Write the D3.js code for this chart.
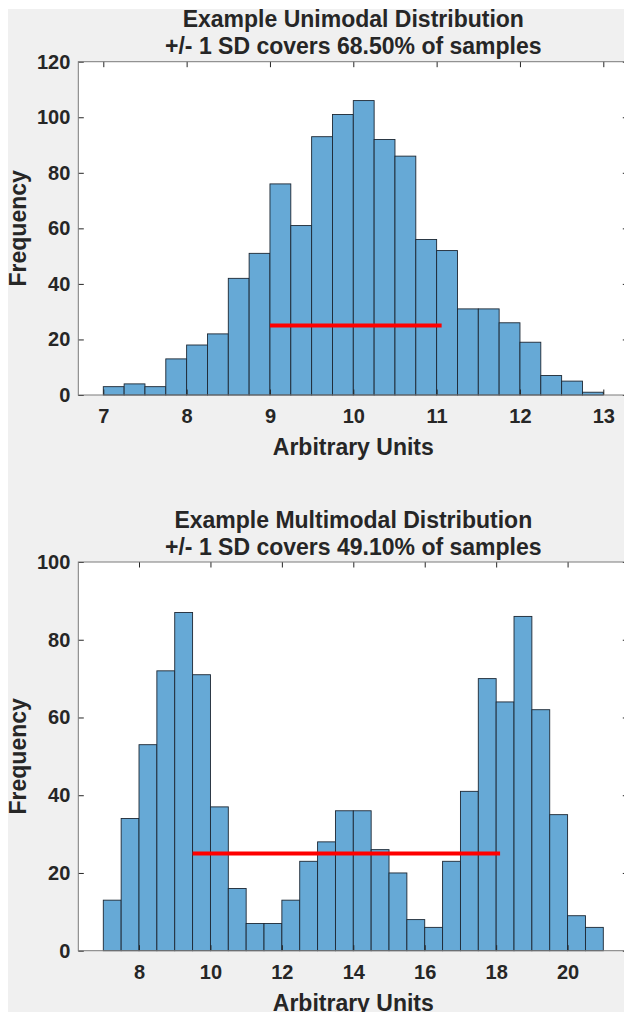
<!DOCTYPE html>
<html>
<head>
<meta charset="utf-8">
<script src="https://cdn.jsdelivr.net/npm/d3@7"></script>
<style>
  html, body { margin: 0; padding: 0; background: #ffffff; }
  svg { display: block; }
  text { font-family: "Liberation Sans", Arial, Helvetica, sans-serif; font-weight: bold; fill: #262626; }
</style>
</head>
<body>
<script>
// ---------- data ----------
const uniTitle = ["Example Unimodal Distribution", "+/- 1 SD covers 68.50% of samples"];
const uniBinStart = 7;
const uniBinWidth = 0.25;
const uniCounts = [3, 4, 3, 13, 18, 22, 42, 51, 76, 61, 93, 101, 106, 92, 86, 56, 52, 31, 31, 26, 19, 7, 5, 1];
const uniSD = [9.0, 11.06];
const uniSDLevel = 25;
const uniXTicks = [7, 8, 9, 10, 11, 12, 13];
const uniYTicks = [0, 20, 40, 60, 80, 100, 120];
const uniXDomain = [6.7, 13.3];
const uniYDomain = [0, 120];

const multiTitle = ["Example Multimodal Distribution", "+/- 1 SD covers 49.10% of samples"];
const multiBinStart = 7;
const multiBinWidth = 0.5;
const multiCounts = [13, 34, 53, 72, 87, 71, 37, 16, 7, 7, 13, 23, 28, 36, 36, 26, 20, 8, 6, 23, 41, 70, 64, 86, 62, 35, 9, 6];
const multiSD = [9.5, 18.11];
const multiSDLevel = 25;
const multiXTicks = [8, 10, 12, 14, 16, 18, 20];
const multiYTicks = [0, 20, 40, 60, 80, 100];
const multiXDomain = [6.3, 21.7];
const multiYDomain = [0, 100];

const xLabel = "Arbitrary Units";
const yLabel = "Frequency";

// ---------- drawing ----------
const W = 624, H = 1012;
const svg = d3.select("body").append("svg").attr("width", W).attr("height", H);
svg.append("rect").attr("x", 8).attr("y", 9).attr("width", W - 8).attr("height", H - 9).attr("fill", "#f0f0f0");

function drawPanel(cfg) {
  const x = d3.scaleLinear().domain(cfg.xDomain).range([cfg.left, cfg.right]);
  const y = d3.scaleLinear().domain(cfg.yDomain).range([cfg.bottom, cfg.top]);
  const g = svg.append("g");

  g.append("rect").attr("x", cfg.left).attr("y", cfg.top)
    .attr("width", cfg.right - cfg.left).attr("height", cfg.bottom - cfg.top)
    .attr("fill", "#ffffff");

  const bins = cfg.counts.map((c, i) => ({
    x0: cfg.binStart + i * cfg.binWidth,
    x1: cfg.binStart + (i + 1) * cfg.binWidth,
    c: c
  }));
  g.selectAll("rect.bar").data(bins).enter().append("rect")
    .attr("class", "bar")
    .attr("x", d => x(d.x0))
    .attr("y", d => y(d.c))
    .attr("width", d => x(d.x1) - x(d.x0))
    .attr("height", d => y(0) - y(d.c))
    .attr("fill", "#66a9d6")
    .attr("stroke", "#1c2733")
    .attr("stroke-width", 0.9);

  g.append("line")
    .attr("x1", x(cfg.sd[0])).attr("x2", x(cfg.sd[1]))
    .attr("y1", y(cfg.sdLevel)).attr("y2", y(cfg.sdLevel))
    .attr("stroke", "#ff0000").attr("stroke-width", 4);

  const tl = 5.5;
  const axStyle = sel => {
    sel.select(".domain").remove();
    sel.selectAll(".tick line").attr("stroke", "#262626");
    sel.selectAll(".tick text").style("font-size", "20px").attr("fill", "#262626");
  };
  g.append("g").attr("transform", `translate(0,${cfg.bottom})`)
    .call(d3.axisBottom(x).tickValues(cfg.xTicks).tickSize(-tl).tickPadding(14).tickFormat(d3.format("d")))
    .call(axStyle);
  g.append("g").attr("transform", `translate(0,${cfg.top})`)
    .call(d3.axisTop(x).tickValues(cfg.xTicks).tickSize(-tl).tickFormat(""))
    .call(axStyle);
  g.append("g").attr("transform", `translate(${cfg.left},0)`)
    .call(d3.axisLeft(y).tickValues(cfg.yTicks).tickSize(-tl).tickPadding(8).tickFormat(d3.format("d")))
    .call(axStyle);
  g.append("g").attr("transform", `translate(${cfg.right},0)`)
    .call(d3.axisRight(y).tickValues(cfg.yTicks).tickSize(-tl).tickFormat(""))
    .call(axStyle);

  g.append("rect").attr("x", cfg.left).attr("y", cfg.top)
    .attr("width", cfg.right - cfg.left).attr("height", cfg.bottom - cfg.top)
    .attr("fill", "none").attr("stroke", "#7a7a7a").attr("stroke-width", 1);

  const cx = (cfg.left + cfg.right) / 2;
  cfg.title.forEach((t, i) => {
    g.append("text").attr("x", cx).attr("y", cfg.titleY + i * 27)
      .attr("text-anchor", "middle").style("font-size", "23px").attr("fill", "#000").text(t);
  });
  g.append("text").attr("x", cx).attr("y", cfg.bottom + 60)
    .attr("text-anchor", "middle").style("font-size", "23px").text(xLabel);
  g.append("text")
    .attr("transform", `translate(26,${(cfg.top + cfg.bottom) / 2}) rotate(-90)`)
    .attr("text-anchor", "middle").style("font-size", "23px").text(yLabel);
}

drawPanel({
  title: uniTitle, counts: uniCounts, binStart: uniBinStart, binWidth: uniBinWidth,
  sd: uniSD, sdLevel: uniSDLevel, xTicks: uniXTicks, yTicks: uniYTicks,
  xDomain: uniXDomain, yDomain: uniYDomain,
  left: 78.3, right: 628.3, top: 61.7, bottom: 395, titleY: 26.5
});
drawPanel({
  title: multiTitle, counts: multiCounts, binStart: multiBinStart, binWidth: multiBinWidth,
  sd: multiSD, sdLevel: multiSDLevel, xTicks: multiXTicks, yTicks: multiYTicks,
  xDomain: multiXDomain, yDomain: multiYDomain,
  left: 78.3, right: 628.3, top: 562, bottom: 950.7, titleY: 528
});
</script>
</body>
</html>
